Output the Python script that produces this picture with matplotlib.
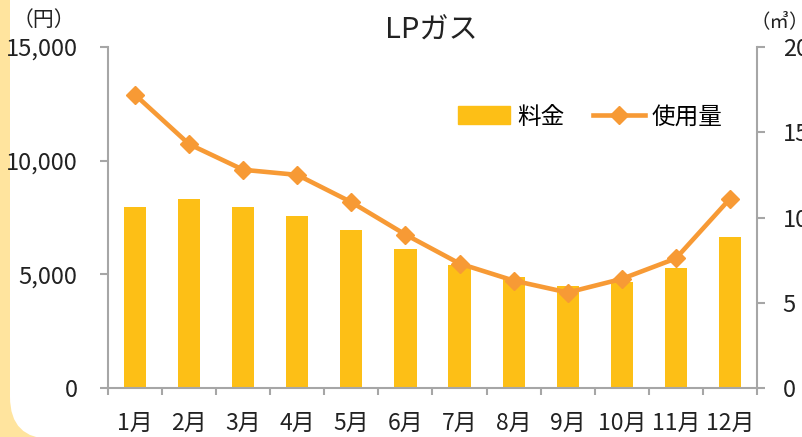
import matplotlib.pyplot as plt
from matplotlib.patches import FancyBboxPatch, Rectangle
from matplotlib.lines import Line2D
from matplotlib.ticker import FuncFormatter
from matplotlib.transforms import IdentityTransform

plt.rcParams["font.family"] = ["Noto Sans CJK JP", "DejaVu Sans"]

months = ["1月", "2月", "3月", "4月", "5月", "6月",
          "7月", "8月", "9月", "10月", "11月", "12月"]
charge = [7950, 8300, 7950, 7550, 6950, 6100, 5400, 4900, 4500, 4650, 5300, 6650]
usage = [17.2, 14.3, 12.8, 12.5, 10.9, 9.0, 7.3, 6.3, 5.6, 6.4, 7.6, 11.1]

bar_color = "#FDBF16"
line_color = "#F79A35"
axis_color = "#A6A6A6"
text_color = "#222222"

fig = plt.figure(figsize=(8.03, 4.37), dpi=100)

# yellow page edge with a white rounded panel on top
fig.patches.append(Rectangle((0, 0), 1, 1, transform=fig.transFigure,
                             facecolor="#FFE49E", edgecolor="none", zorder=-10))
fig.patches.append(FancyBboxPatch((10, -2), 1200, 700,
                                  boxstyle="round,pad=0,rounding_size=42",
                                  transform=IdentityTransform(),
                                  facecolor="white", edgecolor="none", zorder=-9))

ax = fig.add_axes([0.1345, 0.1121, 0.8082, 0.7803])
ax.patch.set_alpha(0)
x = list(range(len(months)))
ax.bar(x, charge, width=0.41, color=bar_color)
ax.set_xlim(-0.5, 11.5)
ax.set_ylim(0, 15000)
ax.set_yticks([0, 5000, 10000, 15000])
ax.yaxis.set_major_formatter(FuncFormatter(lambda v, p: f"{int(v):,}"))
ax.set_xticks(x)
ax.set_xticklabels(months)
ax.set_xticks([i - 0.5 for i in range(13)], minor=True)
ax.tick_params(axis="x", which="major", length=0, pad=17, labelsize=16.5, colors=text_color)
ax.tick_params(axis="x", which="minor", length=5, width=1.5, color=axis_color)
ax.tick_params(axis="y", length=6, width=1.5, color=axis_color, pad=16,
               labelsize=17, labelcolor=text_color)
for s in ["top", "right"]:
    ax.spines[s].set_visible(False)
for s in ["left", "bottom"]:
    ax.spines[s].set_color(axis_color)
    ax.spines[s].set_linewidth(1.5)

ax2 = ax.twinx()
ax2.plot(x, usage, color=line_color, linewidth=3.3, marker="D", markersize=9)
ax2.set_ylim(0, 20)
ax2.set_yticks([0, 5, 10, 15, 20])
ax2.tick_params(axis="y", length=6, width=1.5, color=axis_color, pad=12.5,
                labelsize=17, labelcolor=text_color)
for s in ["top", "left", "bottom"]:
    ax2.spines[s].set_visible(False)
ax2.spines["right"].set_color(axis_color)
ax2.spines["right"].set_linewidth(1.5)

handles = [Rectangle((0, 0), 1, 1, color=bar_color),
           Line2D([], [], color=line_color, linewidth=3.3, marker="D", markersize=9)]
ax2.legend(handles, ["料金", "使用量"], loc="center", bbox_to_anchor=(0.735, 0.732),
           bbox_transform=fig.transFigure, ncol=2, frameon=False, fontsize=17,
           handlelength=2.2, handletextpad=0.3, columnspacing=1.2, handleheight=0.8)

fig.text(0.537, 0.93, "LPガス", ha="center", va="center", fontsize=21, color=text_color)
fig.text(0.055, 0.955, "（円）", ha="center", va="center", fontsize=15, color=text_color)
fig.text(0.935, 0.95, "（㎥）", ha="left", va="center", fontsize=14, color=text_color)

fig.savefig("out.png", dpi=100)
